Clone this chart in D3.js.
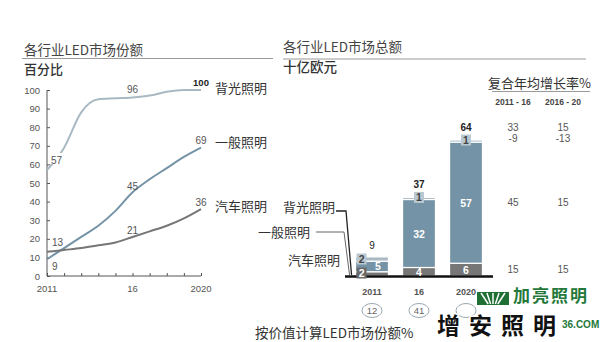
<!DOCTYPE html>
<html>
<head>
<meta charset="utf-8">
<script src="https://cdn.jsdelivr.net/npm/d3@7/dist/d3.min.js"></script>
<style>
  html, body { margin: 0; padding: 0; background: #fff; }
  svg { display: block; }
  text { font-family: "Liberation Sans", Arial, "Noto Sans CJK SC", sans-serif; }
  .cjk { font-family: "Noto Sans CJK SC", "Liberation Sans", sans-serif; }
</style>
</head>
<body>
<svg id="chart" width="611" height="342"></svg>
<script>
// ---- Left panel: share of LED market by application (%) ----
const years = [2011, 2012, 2013, 2014, 2015, 2016, 2017, 2018, 2019, 2020];
const backlightShare = [57, 69, 88, 95, 95.5, 96, 97, 99, 100, 100];
const generalShare   = [9, 15, 21, 27, 35, 45, 52, 58, 64, 69];
const autoShare      = [13, 14, 15, 16.5, 18, 21, 24, 27, 31, 36];
const shareTicks = [0, 10, 20, 30, 40, 50, 60, 70, 80, 90, 100];
const yearTickLabels = {2011: "2011", 2016: "16", 2020: "2020"};
const seriesNames = ["背光照明", "一般照明", "汽车照明"];

// ---- Right panel: total LED market (billion EUR) ----
const barYears = ["2011", "16", "2020"];
const autoValue      = [2, 4, 6];
const generalValue   = [5, 32, 57];
const backlightValue = [2, 1, 1];
const barTotals      = [9, 37, 64];
const ledShareByValue = [12, 41];   // the 2020 bubble sits under the site mark
const cagrHeaders = ["2011 - 16", "2016 - 20"];
const cagrTotal     = [33, 15];
const cagrBacklight = [-9, -13];
const cagrGeneral   = [45, 15];
const cagrAuto      = [15, 15];

const svg = d3.select("#chart");

const C = {
  backlight: "#a9b9c4",
  general: "#7593a6",
  auto: "#767676",
  text: "#333",
  axis: "#555",
  rule: "#9a9a9a"
};

// ================= Left panel =================
const x = d3.scaleLinear().domain([2011, 2020]).range([47, 201]);
const y = d3.scaleLinear().domain([0, 100]).range([276, 90]);

svg.append("text").attr("class", "cjk").attr("x", 24).attr("y", 55)
  .attr("font-size", 13.5).attr("fill", "#444").text("各行业LED市场份额");
svg.append("line").attr("x1", 22).attr("x2", 273).attr("y1", 58.5).attr("y2", 58.5)
  .attr("stroke", C.rule).attr("stroke-width", 1);
svg.append("text").attr("class", "cjk").attr("x", 24).attr("y", 74)
  .attr("font-size", 13).attr("font-weight", 500).attr("fill", "#333").text("百分比");

// y axis: ticks point inward
const yAxis = d3.axisRight(y).tickValues(shareTicks).tickSize(3).tickFormat("");
const yG = svg.append("g").attr("transform", `translate(${x(2011)},0)`).call(yAxis);
yG.selectAll("path, line").attr("stroke", C.axis);
yG.select(".domain").attr("d", `M0,${y(0)}V${y(100)}`);
svg.append("g").selectAll("text").data(shareTicks).join("text")
  .attr("x", 40).attr("y", d => y(d) + 3.5).attr("text-anchor", "end")
  .attr("font-size", 9.5).attr("fill", "#555").text(d => d);

// x axis: ticks point up
const xAxis = d3.axisTop(x).tickValues(years).tickSize(3).tickFormat("");
const xG = svg.append("g").attr("transform", `translate(0,${y(0)})`).call(xAxis);
xG.selectAll("path, line").attr("stroke", C.axis);
xG.select(".domain").attr("d", `M${x(2011)},0H${x(2020)}`);
svg.append("g").selectAll("text").data(Object.keys(yearTickLabels)).join("text")
  .attr("x", d => x(+d)).attr("y", 292).attr("text-anchor", "middle")
  .attr("font-size", 9.5).attr("fill", "#555").text(d => yearTickLabels[d]);

const line = d3.line().x((d, i) => x(years[i])).y(d => y(d)).curve(d3.curveMonotoneX);
const lineSeries = [
  {vals: backlightShare, color: C.backlight},
  {vals: generalShare, color: C.general},
  {vals: autoShare, color: C.auto}
];
svg.append("g").selectAll("path").data(lineSeries).join("path")
  .attr("d", d => line(d.vals)).attr("fill", "none")
  .attr("stroke", d => d.color).attr("stroke-width", 2);

// point labels: [series values, year index, dx, dy, anchor, bold, backed]
const pointLabels = [
  [backlightShare, 0, 4, -9, "start", false, true],
  [backlightShare, 5, 0, -8, "middle", false, false],
  [backlightShare, 9, 0, -8, "middle", true, false],
  [generalShare, 0, 5, 7, "start", false, true],
  [generalShare, 5, 0, -6, "middle", false, false],
  [generalShare, 9, 0, -7, "middle", false, false],
  [autoShare, 0, 5, -9, "start", false, true],
  [autoShare, 5, 0, -6, "middle", false, false],
  [autoShare, 9, 0, -7, "middle", false, false]
];
const plG = svg.append("g");
pointLabels.forEach(([vals, i, dx, dy, anchor, bold, backed]) => {
  const tx = x(years[i]) + dx, ty = y(vals[i]) + dy;
  const txt = String(vals[i]);
  if (backed) {
    const w = txt.length * 5.6 + 2;
    plG.append("rect").attr("x", anchor === "start" ? tx - 1 : tx - w / 2)
      .attr("y", ty - 8).attr("width", w).attr("height", 11).attr("fill", "#fff");
  }
  plG.append("text").attr("x", tx).attr("y", ty + 3.5).attr("text-anchor", anchor)
    .attr("font-size", bold ? 9.5 : 10).attr("font-weight", bold ? 700 : 400)
    .attr("fill", bold ? "#222" : "#555").text(txt);
});

// series names at line ends
const endLabelY = [88, 142, 206];
svg.append("g").selectAll("text").data(seriesNames).join("text")
  .attr("class", "cjk").attr("x", 215).attr("y", (d, i) => endLabelY[i] + 4.5)
  .attr("font-size", 13).attr("fill", "#333").text(d => d);

// ================= Right panel =================
svg.append("text").attr("class", "cjk").attr("x", 283).attr("y", 52)
  .attr("font-size", 13.5).attr("fill", "#444").text("各行业LED市场总额");
svg.append("line").attr("x1", 283).attr("x2", 586).attr("y1", 59).attr("y2", 59)
  .attr("stroke", C.rule).attr("stroke-width", 1);
svg.append("text").attr("class", "cjk").attr("x", 283).attr("y", 72)
  .attr("font-size", 13.5).attr("font-weight", 500).attr("fill", "#333").text("十亿欧元");

// CAGR table
svg.append("text").attr("class", "cjk").attr("x", 488).attr("y", 88)
  .attr("font-size", 13).attr("fill", "#333").text("复合年均增长率%");
svg.append("line").attr("x1", 492).attr("x2", 590).attr("y1", 91.5).attr("y2", 91.5)
  .attr("stroke", C.rule).attr("stroke-width", 1);
const cagrX = [513, 563];
svg.append("g").selectAll("text").data(cagrHeaders).join("text")
  .attr("x", (d, i) => cagrX[i]).attr("y", 105).attr("text-anchor", "middle")
  .attr("font-size", 8.5).attr("font-weight", 700).attr("fill", "#444").text(d => d);

const bx = d3.scaleBand().domain(barYears).range([348.5, 489.5])
  .paddingInner(0.3).paddingOuter(0.15);
const by = d3.scaleLinear().domain([0, 64]).range([276, 140]);

// CAGR rows aligned to the 2020 bar segments
const cagrRows = [
  {vals: cagrTotal, y: 131},
  {vals: cagrBacklight, y: 142},
  {vals: cagrGeneral, y: by(autoValue[2] + generalValue[2] / 2) + 3.5},
  {vals: cagrAuto, y: by(autoValue[2] / 2) + 3.5}
];
cagrRows.forEach(r => {
  svg.append("g").selectAll("text").data(r.vals).join("text")
    .attr("x", (d, i) => cagrX[i]).attr("y", r.y).attr("text-anchor", "middle")
    .attr("font-size", 10).attr("fill", "#555").text(d => d);
});

// stacked bars
const stackData = barYears.map((yr, i) => ({
  yr, auto: autoValue[i], general: generalValue[i], backlight: backlightValue[i]
}));
const keys = ["auto", "general", "backlight"];
const stacked = d3.stack().keys(keys)(stackData);
const barG = svg.append("g");
stacked.forEach(layer => {
  barG.selectAll(null).data(layer).join("rect")
    .attr("x", d => bx(d.data.yr)).attr("width", bx.bandwidth())
    .attr("y", d => by(d[1])).attr("height", d => by(d[0]) - by(d[1]))
    .attr("fill", C[layer.key]).attr("stroke", "#fff").attr("stroke-width", 1.2);
});

// baseline
svg.append("line").attr("x1", 345).attr("x2", 493).attr("y1", 276.5).attr("y2", 276.5)
  .attr("stroke", "#111").attr("stroke-width", 2.5);

// segment labels
const segLabel = (cx, cy, txt, boxFill, txtFill) => {
  if (boxFill) {
    const w = txt.length * 6 + 4;
    svg.append("rect").attr("x", cx - w / 2).attr("y", cy - 5.5).attr("width", w)
      .attr("height", 11).attr("fill", boxFill);
  }
  svg.append("text").attr("x", cx).attr("y", cy + 4).attr("text-anchor", "middle")
    .attr("font-size", 10.5).attr("font-weight", 700).attr("fill", txtFill).text(txt);
};
stackData.forEach((d, i) => {
  const cx = bx(d.yr) + bx.bandwidth() / 2;
  const small = i === 0;
  const sideX = small ? bx(d.yr) + 6 : cx;
  const midX = small ? cx + 6 : cx;
  // general lighting segment
  segLabel(midX, by(d.auto + d.general / 2), String(d.general), null, "#fff");
  // automotive segment
  segLabel(sideX, small ? 273 : by(d.auto / 2), String(d.auto), small ? "#6a6a6a" : null, "#fff");
  // backlight segment
  const topY = by(d.auto + d.general + d.backlight / 2);
  segLabel(sideX, small ? topY : topY - 1, String(d.backlight), "#b9c8d1", "#444");
  // totals
  svg.append("text").attr("x", cx).attr("y", by(barTotals[i]) - (small ? 8 : 9))
    .attr("text-anchor", "middle").attr("font-size", 10)
    .attr("font-weight", small ? 400 : 700).attr("fill", "#222").text(barTotals[i]);
  // year label
  svg.append("text").attr("x", cx).attr("y", 295).attr("text-anchor", "middle")
    .attr("font-size", 9).attr("font-weight", 700).attr("fill", "#555").text(d.yr);
  // LED share by value, in ellipses
  svg.append("ellipse").attr("cx", cx).attr("cy", 310.5).attr("rx", 10).attr("ry", 7)
    .attr("fill", "#fff").attr("stroke", "#9aa7b0").attr("stroke-width", 1);
  if (i < ledShareByValue.length) {
    svg.append("text").attr("x", cx).attr("y", 314).attr("text-anchor", "middle")
      .attr("font-size", 9.5).attr("fill", "#666").text(ledShareByValue[i]);
  }
});

// legend labels with leader lines to the first bar
const legendG = svg.append("g");
const bar0 = bx(barYears[0]);
legendG.append("text").attr("class", "cjk").attr("x", 283).attr("y", 212)
  .attr("font-size", 13).attr("fill", "#333").text(seriesNames[0]);
legendG.append("text").attr("class", "cjk").attr("x", 258).attr("y", 237)
  .attr("font-size", 13).attr("fill", "#333").text(seriesNames[1]);
legendG.append("text").attr("class", "cjk").attr("x", 288).attr("y", 265)
  .attr("font-size", 13).attr("fill", "#333").text(seriesNames[2]);
legendG.append("path")
  .attr("d", `M336,211H346L${bar0 - 4},${by(0.5)}`)
  .attr("fill", "none").attr("stroke", "#222").attr("stroke-width", 1.3);
legendG.append("path")
  .attr("d", `M316,232H344L${bar0 - 6},${by(0.5)}`)
  .attr("fill", "none").attr("stroke", "#666").attr("stroke-width", 1);

// caption
svg.append("text").attr("class", "cjk").attr("x", 255).attr("y", 338)
  .attr("font-size", 13.5).attr("fill", "#333").text("按价值计算LED市场份额%");

// site marks
const wm = svg.append("g");
wm.append("rect").attr("x", 477).attr("y", 292).attr("width", 32).attr("height", 13)
  .attr("fill", "#1f6e33");
[-12, -6, 0, 6, 12].forEach(a => {
  wm.append("line").attr("x1", 493 + a * 0.4).attr("y1", 304)
    .attr("x2", 493 + a).attr("y2", 293).attr("stroke", "#fff").attr("stroke-width", 1.5);
});
wm.append("text").attr("class", "cjk").attr("x", 513).attr("y", 302)
  .attr("font-size", 17).attr("font-weight", 700).attr("fill", "#24793a")
  .attr("letter-spacing", 2).text("加亮照明");
wm.append("text").attr("class", "cjk").attr("x", 437).attr("y", 334)
  .attr("font-size", 23).attr("font-weight", 700).attr("fill", "#111")
  .attr("letter-spacing", 9)
  .attr("stroke", "#fff").attr("stroke-width", 3).attr("paint-order", "stroke")
  .text("增安照明");
wm.append("text").attr("x", 562).attr("y", 328)
  .attr("font-size", 10).attr("font-weight", 700).attr("fill", "#24793a").text("36.COM");
</script>
</body>
</html>
